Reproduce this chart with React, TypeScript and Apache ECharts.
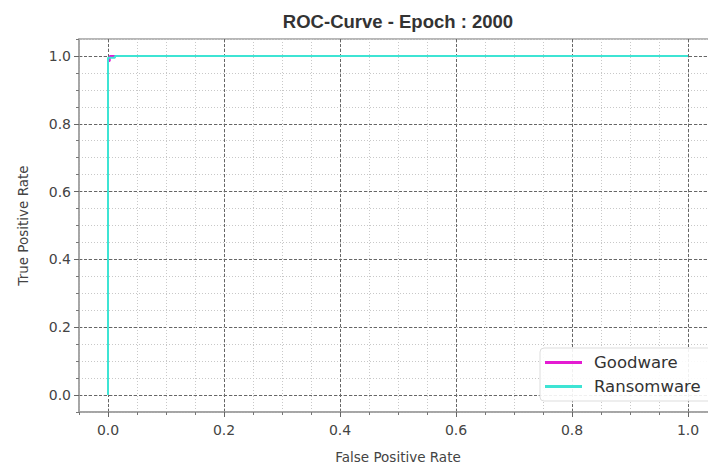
import React, { useEffect, useRef } from "react";
import * as echarts from "echarts";

const titleText = "ROC-Curve - Epoch : 2000";
const xName = "False Positive Rate";
const yName = "True Positive Rate";
const majorTicks = [0, 0.2, 0.4, 0.6, 0.8, 1.0];
const seriesNames = ["Goodware", "Ransomware"];
const goodwareFpr = [0, 0, 0.003, 0.003, 0.01, 1];
const goodwareTpr = [0, 0.985, 0.985, 1, 1, 1];
const ransomwareFpr = [0, 0, 0.012, 0.012, 1];
const ransomwareTpr = [0, 0.995, 0.995, 1, 1];

const FONT = "'DejaVu Sans', sans-serif";

export default function App() {
  const ref = useRef<HTMLDivElement>(null);
  useEffect(() => {
    if (!ref.current) return;
    const chart = echarts.init(ref.current, null, { renderer: "svg" });
    const pair = (xs: number[], ys: number[]) => xs.map((x, i) => [x, ys[i]]);
    const minorAxisCommon = {
      type: "value",
      min: -0.05,
      max: 1.05,
      interval: 0.05,
      z: 0,
      axisLabel: { show: false },
      axisTick: { show: true, inside: false, length: 3, lineStyle: { color: "#777", width: 1 } },
      splitLine: { show: true, lineStyle: { color: "#c8c8c8", width: 1, type: [1, 2] } },
    };
    const majorAxisCommon = {
      type: "value",
      min: -0.05,
      max: 1.05,
      interval: 0.05,
      z: 0,
      axisLine: { show: false, onZero: false },
      axisTick: {
        show: true,
        inside: false,
        length: 5,
        customValues: majorTicks,
        lineStyle: { color: "#666", width: 1 },
      },
      axisLabel: {
        show: true,
        customValues: majorTicks,
        formatter: (v: number) => v.toFixed(1),
        color: "#444",
        fontSize: 14,
        fontFamily: FONT,
      },
      splitLine: { show: true, lineStyle: { color: "#666", width: 1, type: [3, 2] } },
    };
    chart.setOption({
      animation: false,
      backgroundColor: "#ffffff",
      title: {
        text: titleText,
        left: 393,
        top: 7,
        textAlign: "center",
        textStyle: {
          fontFamily: "'Liberation Sans', Arial, sans-serif",
          fontWeight: "bold",
          fontSize: 18.5,
          color: "#333",
        },
      },
      grid: {
        left: 79,
        top: 39,
        width: 638,
        height: 373,
        show: true,
        borderColor: "#a0a0a0",
        borderWidth: 1.5,
        containLabel: false,
        outerBoundsMode: "none",
      },
      legend: {
        show: true,
        data: seriesNames,
        orient: "vertical",
        left: 540,
        top: 348,
        padding: [6, 12, 6, 5],
        itemGap: 7,
        itemWidth: 37,
        itemHeight: 3,
        icon: "rect",
        backgroundColor: "rgba(255,255,255,0.9)",
        borderColor: "#dddddd",
        borderWidth: 1,
        borderRadius: 4,
        textStyle: {
          fontFamily: FONT,
          fontSize: 16.5,
          color: "#333",
          padding: [0, 0, 0, 7],
        },
      },
      xAxis: [
        {
          ...minorAxisCommon,
          position: "bottom",
          axisLine: { show: true, onZero: false, lineStyle: { color: "#a0a0a0", width: 1.5 } },
        },
        {
          ...majorAxisCommon,
          position: "bottom",
          offset: 0,
          axisLabel: { ...majorAxisCommon.axisLabel, margin: 11 },
          name: xName,
          nameLocation: "middle",
          nameGap: 38,
          nameTextStyle: { fontFamily: FONT, fontSize: 13.5, color: "#444" },
        },
      ],
      yAxis: [
        {
          ...minorAxisCommon,
          position: "left",
          axisLine: { show: true, onZero: false, lineStyle: { color: "#a0a0a0", width: 1.5 } },
        },
        {
          ...majorAxisCommon,
          position: "left",
          offset: 0,
          axisLabel: { ...majorAxisCommon.axisLabel, margin: 8 },
          name: yName,
          nameLocation: "middle",
          nameGap: 49,
          nameRotate: 90,
          nameTextStyle: { fontFamily: FONT, fontSize: 13.5, color: "#444" },
        },
      ],
      series: [
        {
          name: seriesNames[0],
          type: "line",
          xAxisIndex: 0,
          yAxisIndex: 0,
          symbol: "none",
          color: "#e41bd2",
          lineStyle: { width: 2, color: "#e41bd2", opacity: 1 },
          data: pair(goodwareFpr, goodwareTpr),
          z: 10,
        },
        {
          name: seriesNames[1],
          type: "line",
          xAxisIndex: 0,
          yAxisIndex: 0,
          symbol: "none",
          color: "#3ee4d4",
          lineStyle: { width: 2, color: "#3ee4d4", opacity: 1 },
          data: pair(ransomwareFpr, ransomwareTpr),
          z: 11,
        },
      ],
    });
    return () => chart.dispose();
  }, []);
  return (
    <div
      ref={ref}
      style={{ position: "fixed", left: 0, top: 0, width: 708, height: 466, background: "#fff" }}
    />
  );
}
